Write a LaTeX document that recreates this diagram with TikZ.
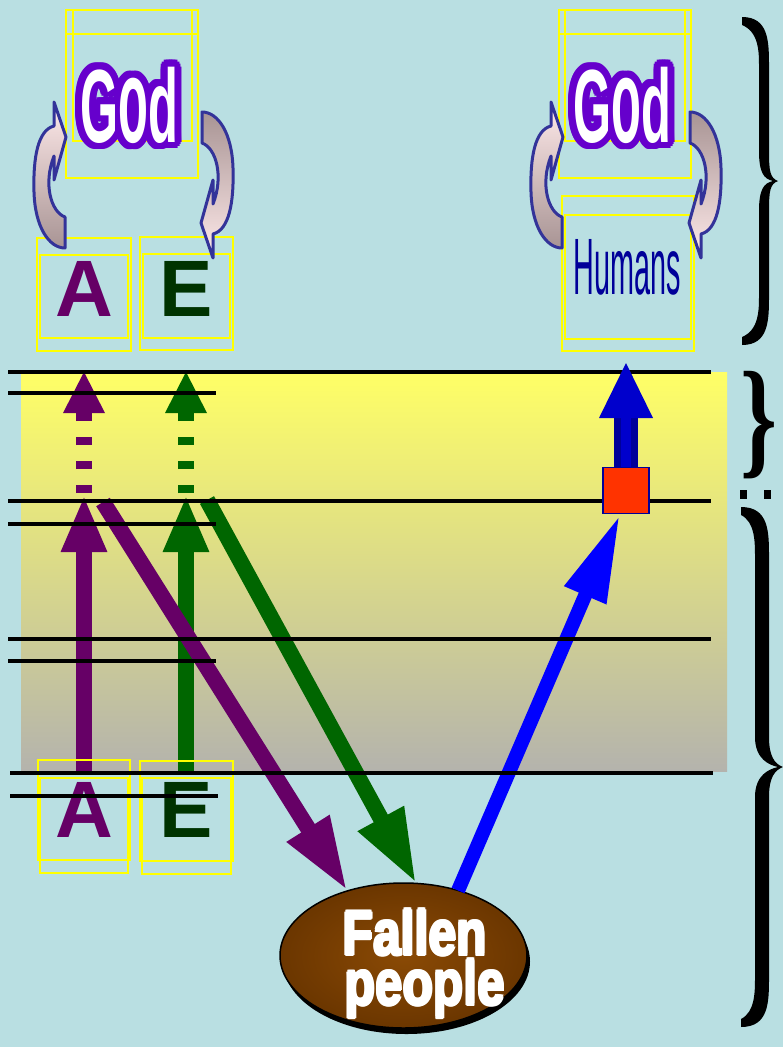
\documentclass[tikz,border=0pt]{standalone}
\usepackage{fontspec}
\setmainfont{Liberation Sans}
\newfontfamily\serifbrace{Liberation Serif}
\usetikzlibrary{arrows.meta,calc,shapes.geometric}
\definecolor{bgc}{HTML}{B9DFE2}
\definecolor{gradtop}{HTML}{FFFF66}
\definecolor{gradbot}{HTML}{B4B3AD}
\definecolor{apurple}{HTML}{660066}
\definecolor{egreen}{HTML}{006600}
\definecolor{eletter}{HTML}{003300}
\definecolor{yellowc}{HTML}{FFFF00}
\definecolor{godpurple}{HTML}{6600CC}
\definecolor{humblue}{HTML}{000099}
\definecolor{navyc}{HTML}{000099}
\definecolor{bluec}{HTML}{0000CC}
\definecolor{brightblue}{HTML}{0000FF}
\definecolor{redc}{HTML}{FF3300}
\definecolor{browni}{HTML}{8A4A05}
\definecolor{browno}{HTML}{6B3600}
\definecolor{cpink}{HTML}{FFEAEA}
\definecolor{cbrown}{HTML}{A89494}
\definecolor{cblue}{HTML}{333399}
\newcommand\curvarrow[5]{%
\begin{scope}[shift={(#1,#2)},rotate=#3]
\shade[top color=#4,bottom color=#5,draw=cblue,line width=3pt,line join=round]
 (0,-15) .. controls (-14,-20) and (-22,-48) .. (-11,-76) -- (-11,-52) -- (1,-95) -- (-11,-130) -- (-11,-106)
 .. controls (-27,-102) and (-32,-75) .. (-31,-40) .. controls (-30,-5) and (-16,16) .. (0,16) -- cycle;
\end{scope}}
\newcommand\mybrace[6]{% L y1 y2 M T w
\pgfmathsetmacro\ym{(#2+#3)/2}
\fill[black] (#1,#2) .. controls (#4+#6,#2) and (#4+#6,#2+25) .. (#4+#6,#2+50) -- (#4+#6,\ym-30)
 .. controls (#4+#6,\ym-10) and (#5-8,\ym-3) .. (#5,\ym)
 .. controls (#5-8,\ym+3) and (#4+#6,\ym+10) .. (#4+#6,\ym+30) -- (#4+#6,#3-50)
 .. controls (#4+#6,#3-25) and (#4+#6,#3) .. (#1,#3) -- (#1,#3-8)
 .. controls (#4-#6,#3-15) and (#4-#6,#3-35) .. (#4-#6,#3-50) -- (#4-#6,\ym+30)
 .. controls (#4-#6,\ym+8) and (#5-14,\ym+2) .. (#5-5,\ym)
 .. controls (#5-14,\ym-2) and (#4-#6,\ym-8) .. (#4-#6,\ym-30) -- (#4-#6,#2+50)
 .. controls (#4-#6,#2+35) and (#4-#6,#2+15) .. (#1,#2+8) -- cycle;}
\newcommand\godword{G\scalebox{1}[1.15]{o}d}
\begin{document}
\begin{tikzpicture}[x=1pt,y=-1pt]
\tikzset{
 every node/.style={inner sep=0pt,outer sep=0pt},
 blackline/.style={line width=3.5pt,draw=black},
 ybox/.style={draw=yellowc,line width=1.3pt},
 parrow/.style={draw=apurple,line width=16pt,-{Triangle[length=74pt,width=46pt]}},
 garrow/.style={draw=egreen,line width=16pt,-{Triangle[length=74pt,width=48pt]}},
 barrow/.style={draw=brightblue,line width=14pt,-{Triangle[length=88pt,width=42pt]}},
 vparrow/.style={draw=apurple,line width=16pt,-{Triangle[length=57pt,width=42pt]}},
 vgarrow/.style={draw=egreen,line width=16pt,-{Triangle[length=57pt,width=42pt]}},
 dashpart/.style={line width=16pt,dash pattern=on 8pt off 16pt},
 godtext/.style={font=\fontsize{104}{104}\selectfont\bfseries,xscale=0.47,anchor=base},
 letter/.style={font=\fontsize{80}{80}\selectfont\bfseries},
 fallentext/.style={font=\fontsize{63}{63}\selectfont\bfseries,xscale=0.79,anchor=base},
}
\useasboundingbox (0,0) rectangle (783,1047);
\fill[bgc] (0,0) rectangle (783,1047);
\shade[top color=gradtop,bottom color=gradbot] (21,372) rectangle (727,771);

% coordinates
\coordinate (pA0) at (84,771);
\coordinate (pA1) at (84,495);
\coordinate (pAd0) at (84,493);
\coordinate (pAd1) at (84,413);
\coordinate (pAt) at (84,372);
\coordinate (gE0) at (186,771);
\coordinate (gE1) at (186,495);
\coordinate (gEd0) at (186,493);
\coordinate (gEd1) at (186,413);
\coordinate (gEt) at (186,372);
\coordinate (pdiag) at (103,502);
\coordinate (gdiag) at (207,500);

% Fallen people ellipse
\node[ellipse,minimum width=247pt,minimum height=145pt,fill=black] (fallenshadow) at (406.5,961.5) {};
\node[ellipse,minimum width=247pt,minimum height=145pt,inner color=browni,outer color=browno,draw=black,line width=1.5pt] (fallen) at (403.5,955.5) {};

% arrows
\draw[vparrow] (pA0) -- (pA1);
\draw[vgarrow] (gE0) -- (gE1);
\draw[apurple,dashpart] (pAd0) -- (pAd1);
\draw[egreen,dashpart] (gEd0) -- (gEd1);
\fill[apurple] ($(pAd1)+(-21,0)$) -- ($(pAd1)+(21,0)$) -- (pAt) -- cycle;
\fill[egreen] ($(gEd1)+(-21,0)$) -- ($(gEd1)+(21,0)$) -- (gEt) -- cycle;
\draw[parrow] (pdiag) -- (fallen.131);
\draw[garrow] (gdiag) -- (fallen.80);

% red square and blue arrows
\node[draw=navyc,fill=redc,line width=1.5pt,minimum size=46pt] (sq) at (626,490.5) {};
\coordinate (sqin) at ($(sq.south)+(-6,1)$);
\draw[barrow] (fallen.50) -- (sqin);

% yellow boxes
\draw[ybox] (66,10) rectangle (198,178);
\draw[ybox] (73,10) rectangle (192,141);
\draw[ybox] (66,34) -- (198,34);
\draw[ybox] (559,10) rectangle (691,178);
\draw[ybox] (565,10) rectangle (685,141);
\draw[ybox] (559,34) -- (691,34);
\draw[ybox] (562,196) rectangle (694,351);
\draw[ybox] (565,215) rectangle (691,339);
\draw[ybox] (37,238) rectangle (131,351);
\draw[ybox] (40,255) rectangle (128,338);
\draw[ybox] (140,237) rectangle (233,350);
\draw[ybox] (143,254) rectangle (230,338);
\draw[ybox] (38,760) rectangle (130,860);
\draw[ybox] (40,778) rectangle (128,873);
\draw[ybox] (140,761) rectangle (233,861);
\draw[ybox] (142,778) rectangle (231,874);

% letters
\node[letter,text=apurple] (Atop) at (84.5,289) {A};
\node[letter,text=eletter] (Etop) at (186,289) {E};
\node[letter,text=apurple] (Abot) at (84.5,810) {A};
\node[letter,text=eletter] (Ebot) at (186,810) {E};

% black lines
\draw[blackline] (8,372) -- (711,372);
\draw[blackline] (8,393) -- (216,393);
\draw[blackline] (8,501) -- (711,501);
\draw[blackline] (8,524) -- (216,524);
\draw[blackline] (8,639) -- (711,639);
\draw[blackline] (8,661) -- (216,661);
\draw[blackline] (10,773) -- (713,773);
\draw[blackline] (10,796) -- (218,796);

% blue up arrow over square
\coordinate (upbase) at (626,417);
\coordinate (uptip) at (626,363);
\draw[navyc,line width=24pt] (sq.north) -- (upbase);
\draw[bluec,line width=10pt] (sq.north) -- (upbase);
\fill[bluec] ($(upbase)+(-27,1)$) -- ($(upbase)+(27,1)$) -- (uptip) -- cycle;
\node[draw=navyc,fill=redc,line width=1.5pt,minimum size=46pt] (sq2) at (626,490.5) {};

% fallen text (slightly emboldened)
\coordinate (fallenpos) at (415,955);
\coordinate (peoplepos) at (425,1005);
\foreach \a in {0,60,...,300} {
 \node[fallentext,text=white] (fw\a) at ($(fallenpos)+(\a:1.2)$) {Fallen};
 \node[fallentext,text=white] (pw\a) at ($(peoplepos)+(\a:1.2)$) {people};
}
\node[fallentext,text=white] (fallenw) at (fallenpos) {Fallen};
\node[fallentext,text=white] (peoplew) at (peoplepos) {people};

% curved arrows
\curvarrow{65}{232}{0}{cpink}{cbrown}
\curvarrow{202}{128}{180}{cbrown}{cpink}
\curvarrow{562}{232}{0}{cpink}{cbrown}
\curvarrow{690}{128}{180}{cbrown}{cpink}

% God texts
\coordinate (godL) at (129,142);
\coordinate (godR) at (622,142);
\foreach \a in {0,20,...,340} {
 \node[godtext,text=godpurple] (gl\a) at ($(godL)+(\a:7)$) {\godword};
 \node[godtext,text=godpurple] (gr\a) at ($(godR)+(\a:7)$) {\godword};
}
\node[godtext,text=white] (godLw) at (godL) {\godword};
\node[godtext,text=white] (godRw) at (godR) {\godword};

% Humans
\node[font=\fontsize{80}{80}\selectfont,xscale=0.36,text=humblue] (humans) at (627,267) {Humans};

% braces
\mybrace{742}{17}{345}{764}{778}{5}
\mybrace{741}{507}{1027}{762}{783}{7}
\node[font=\serifbrace\bfseries\fontsize{130}{130}\selectfont,xscale=0.72] (midbrace) at (759,425) {\}};
\fill[black] (740,490) rectangle (747,499);
\fill[black] (764,490) rectangle (771,499);
\end{tikzpicture}
\end{document}
